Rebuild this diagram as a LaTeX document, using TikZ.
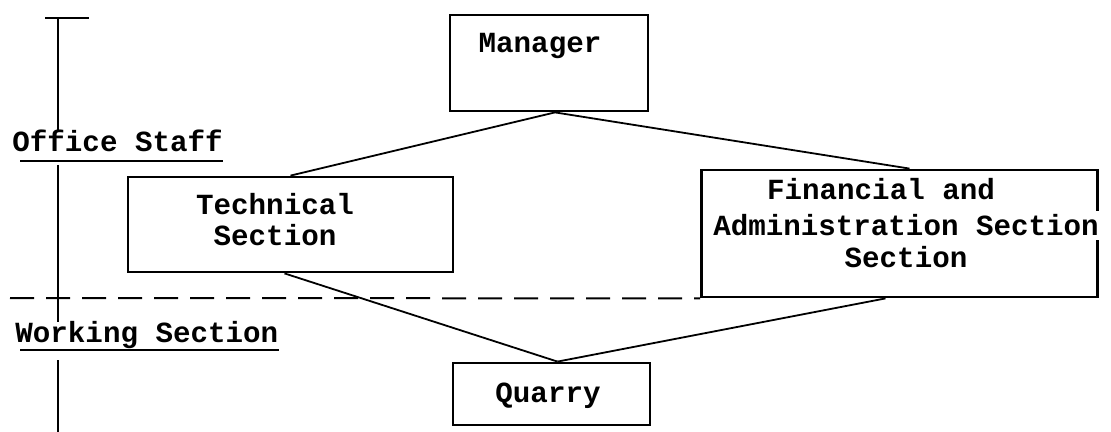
\documentclass[tikz,border=0pt]{standalone}
\usepackage{fontspec}
\setmainfont{Liberation Mono}
\begin{document}
\begin{tikzpicture}[x=0.5pt,y=-0.5pt,
  box/.style={draw,line width=1.4pt,inner sep=0pt},
  txt/.style={inner sep=0pt,font=\fontsize{14.6}{16}\selectfont\bfseries},
  conn/.style={line width=0.9pt},
  axis/.style={line width=1.1pt}]
\useasboundingbox (0,0) rectangle (1111,432);
% boxes
\node[box,minimum width=99pt,minimum height=48pt] (mgr) at (549,63) {};
\node[box,minimum width=162.5pt,minimum height=47.5pt] (tech) at (290.5,224.5) {};
\node[box,minimum width=198pt,minimum height=63.5pt] (fin) at (899.5,233.5) {};
\node[box,minimum width=98.5pt,minimum height=31pt] (qua) at (551.5,394) {};
% texts
\node[txt,anchor=base] (tmgr) at (540,53) {Manager};
\node[txt,anchor=base] (ttech1) at (275,215) {Technical};
\node[txt,anchor=base] (ttech2) at (275,246) {Section};
\node[txt,anchor=base] (tfin1) at (881,200) {Financial and};
\node[txt,anchor=base,fill=white,inner ysep=2pt] (tfin2) at (906,236) {Administration Section};
\node[txt,anchor=base] (tfin3) at (906,268) {Section};
\node[txt,anchor=base] (tqua) at (548,402) {Quarry};
\node[txt,anchor=base west] (office) at (12,152) {Office Staff};
\node[txt,anchor=base west] (working) at (15,342) {Working Section};
% underlines
\draw[line width=0.8pt] (20,161) -- (office.base east |- 0,161);
\draw[line width=0.8pt] (20,350) -- (working.base east |- 0,350);
% vertical axis
\coordinate (a0) at (58,18);
\coordinate (a1) at (58,131);
\coordinate (a2) at (58,165);
\coordinate (a3) at (58,322);
\coordinate (a4) at (58,360);
\coordinate (a5) at (58,432);
\coordinate (t0) at (45,18);
\coordinate (t1) at (89,18);
\draw[axis] (t0) -- (t1);
\draw[axis] (a0) -- (a1);
\draw[axis] (a2) -- (a3);
\draw[axis] (a4) -- (a5);
% dashed divider
\coordinate (d0) at (10,298);
\draw[line width=1pt,dash pattern=on 12pt off 6pt] (d0) -- (fin.south west);
% connectors
\draw[conn] ([xshift=3pt]mgr.south) -- (tech.north);
\draw[conn] ([xshift=3pt]mgr.south) -- ([xshift=5pt]fin.north);
\draw[conn] ([xshift=-3pt]tech.south) -- ([xshift=3pt]qua.north);
\draw[conn] ([xshift=-7pt]fin.south) -- ([xshift=3pt]qua.north);
\end{tikzpicture}
\end{document}
